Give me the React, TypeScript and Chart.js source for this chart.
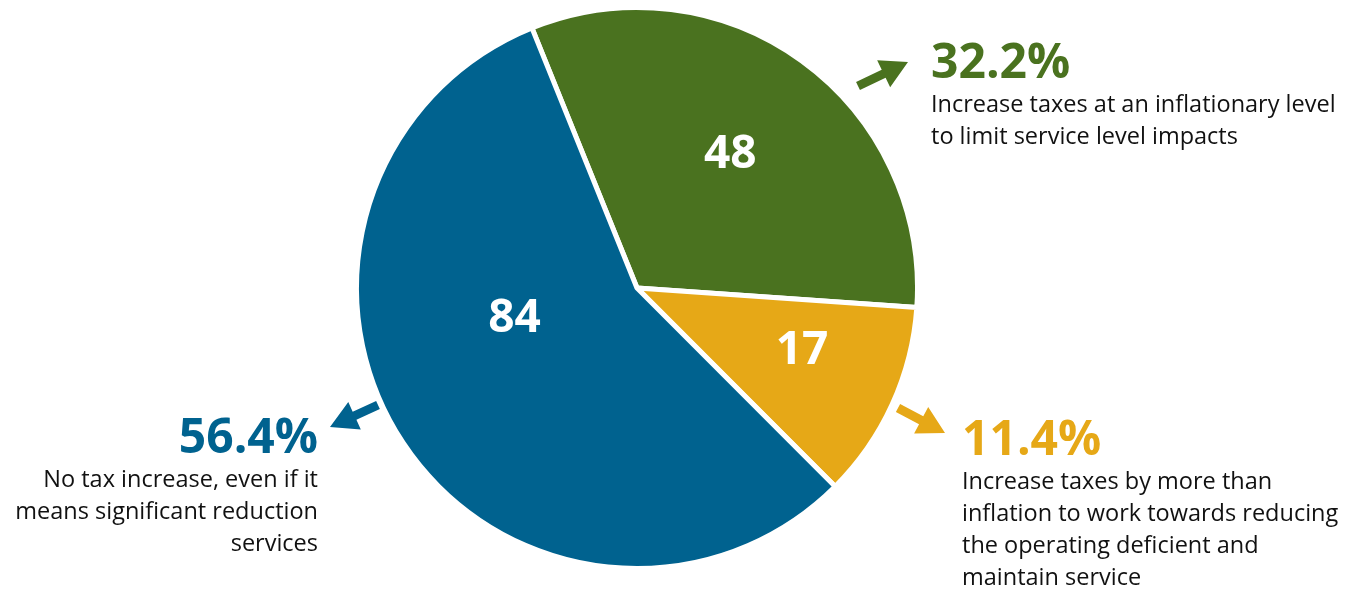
import React, { useEffect, useRef } from "react";
import { Chart, registerables } from "chart.js";

Chart.register(...registerables);

// ---- data ----
const categories = [
  "Increase taxes at an inflationary level to limit service level impacts",
  "Increase taxes by more than inflation to work towards reducing the operating deficient and maintain service",
  "No tax increase, even if it means significant reduction services",
];
const responses = [48, 17, 84];
const descLines = [
  ["Increase taxes at an inflationary level", "to limit service level impacts"],
  ["Increase taxes by more than", "inflation to work towards reducing", "the operating deficient and", "maintain service"],
  ["No tax increase, even if it", "means significant reduction", "services"],
];

// ---- styles / placement ----
const colors = ["#4A721F", "#E6A817", "#00628F"];
const FONT = "'Open Sans', 'Noto Sans', sans-serif";
// inner value labels: angle clockwise from top (deg), distance as fraction of radius
const innerPlacement = [
  { angle: 35, frac: 0.58 },
  { angle: 111, frac: 0.63 },
  { angle: 256, frac: 0.45 },
];
// outer annotations, offsets in px from pie centre
const outerPlacement = [
  { tx: 294, ty: -210, align: "left", tail: [221, -202], tip: [271, -226] },
  { tx: 325, ty: 167, align: "left", tail: [261, 120], tip: [308, 145] },
  { tx: -319, ty: 165, align: "right", tail: [-259, 117], tip: [-307, 139] },
];

function drawArrow(ctx: CanvasRenderingContext2D, x1: number, y1: number, x2: number, y2: number, color: string) {
  const ang = Math.atan2(y2 - y1, x2 - x1);
  const headLen = 27;
  const headW = 15;
  const shaft = 4.5;
  const bx = x2 - headLen * Math.cos(ang);
  const by = y2 - headLen * Math.sin(ang);
  const nx = -Math.sin(ang);
  const ny = Math.cos(ang);
  ctx.save();
  ctx.fillStyle = color;
  ctx.beginPath();
  ctx.moveTo(x1 + nx * shaft, y1 + ny * shaft);
  ctx.lineTo(bx + nx * shaft, by + ny * shaft);
  ctx.lineTo(bx + nx * headW, by + ny * headW);
  ctx.lineTo(x2, y2);
  ctx.lineTo(bx - nx * headW, by - ny * headW);
  ctx.lineTo(bx - nx * shaft, by - ny * shaft);
  ctx.lineTo(x1 - nx * shaft, y1 - ny * shaft);
  ctx.closePath();
  ctx.fill();
  ctx.restore();
}

const labelPlugin = {
  id: "pieLabels",
  afterDraw(chart: any) {
    const ctx: CanvasRenderingContext2D = chart.ctx;
    const meta = chart.getDatasetMeta(0);
    const data = chart.data.datasets[0].data as number[];
    const total = data.reduce((a, b) => a + b, 0);
    meta.data.forEach((arc: any, i: number) => {
      const cx = arc.x;
      const cy = arc.y;
      const r = arc.outerRadius;
      // inner value
      const p = innerPlacement[i];
      const a = (p.angle * Math.PI) / 180;
      const lx = cx + Math.sin(a) * r * p.frac;
      const ly = cy - Math.cos(a) * r * p.frac;
      ctx.save();
      ctx.fillStyle = "#ffffff";
      ctx.font = `bold 46px ${FONT}`;
      ctx.textAlign = "center";
      ctx.textBaseline = "middle";
      ctx.fillText(String(data[i]), lx, ly);
      ctx.restore();

      // outer annotation
      const o = outerPlacement[i];
      drawArrow(ctx, cx + o.tail[0], cy + o.tail[1], cx + o.tip[0], cy + o.tip[1], colors[i]);
      const pct = ((data[i] / total) * 100).toFixed(1) + "%";
      const tx = cx + o.tx;
      const ty = cy + o.ty;
      ctx.save();
      ctx.textAlign = o.align === "right" ? "right" : "left";
      ctx.textBaseline = "alphabetic";
      ctx.fillStyle = colors[i];
      ctx.font = `bold 48px ${FONT}`;
      ctx.fillText(pct, tx, ty);
      ctx.fillStyle = "#111111";
      ctx.font = `23.5px ${FONT}`;
      descLines[i].forEach((line, k) => {
        ctx.fillText(line, tx, ty + 34 + k * 32);
      });
      ctx.restore();
    });
  },
};

export default function App() {
  const ref = useRef<HTMLCanvasElement | null>(null);
  useEffect(() => {
    document.body.style.margin = "0";
    if (!ref.current) return;
    const chart = new Chart(ref.current, {
      type: "pie",
      data: {
        labels: categories,
        datasets: [
          {
            data: responses,
            backgroundColor: colors,
            borderColor: "#ffffff",
            borderWidth: 5,
          },
        ],
      },
      options: {
        animation: false,
        responsive: false,
        rotation: -22,
        layout: { padding: { left: 354, right: 439, top: 5, bottom: 19 } },
        plugins: { legend: { display: false }, tooltip: { enabled: false } },
      },
      plugins: [labelPlugin],
    });
    return () => chart.destroy();
  }, []);
  return (
    <div style={{ width: 1359, height: 590 }}>
      <canvas ref={ref} width={1359} height={590} />
    </div>
  );
}
